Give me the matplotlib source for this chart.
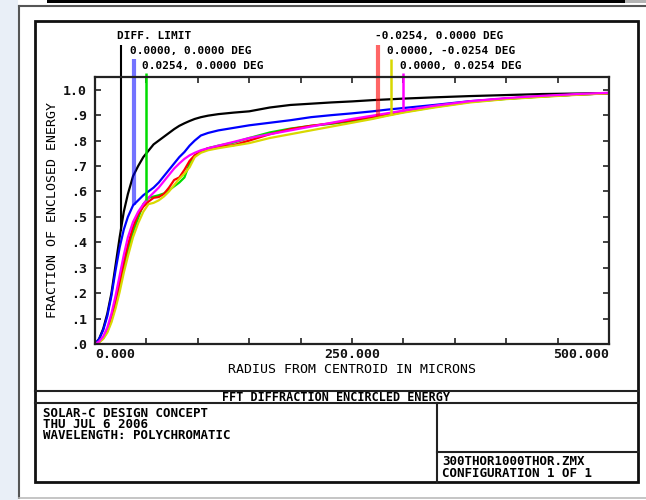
import numpy as np
import matplotlib
matplotlib.use('Agg')
import matplotlib.pyplot as plt
from matplotlib.patches import Rectangle

# radius from centroid (microns) and fraction of enclosed energy
radius = [0, 4, 8, 12, 16, 20, 24, 28, 32, 37, 42, 47, 52, 57, 62, 67, 72, 77, 82, 87,
          92, 97, 103, 110, 120, 135, 150, 170, 190, 210, 230, 250, 270, 285, 300,
          330, 365, 400, 435, 470, 500]

ee_diff = [0, 0.02, 0.06, 0.12, 0.20, 0.31, 0.42, 0.52, 0.59, 0.66, 0.70, 0.735, 0.76,
           0.785, 0.80, 0.815, 0.83, 0.845, 0.858, 0.868, 0.877, 0.885, 0.892, 0.898,
           0.904, 0.91, 0.915, 0.93, 0.94, 0.945, 0.95, 0.954, 0.959, 0.962, 0.965,
           0.97, 0.975, 0.979, 0.983, 0.985, 0.987]
ee_00 = [0, 0.02, 0.055, 0.11, 0.19, 0.29, 0.38, 0.45, 0.50, 0.545, 0.565, 0.585, 0.60,
         0.615, 0.635, 0.66, 0.685, 0.71, 0.735, 0.755, 0.78, 0.80, 0.82, 0.83, 0.84,
         0.85, 0.86, 0.87, 0.88, 0.892, 0.90, 0.907, 0.915, 0.922, 0.928, 0.94, 0.955,
         0.965, 0.974, 0.981, 0.986]
ee_px = [0, 0.008, 0.022, 0.05, 0.095, 0.155, 0.225, 0.30, 0.37, 0.44, 0.495, 0.55,
         0.575, 0.58, 0.585, 0.592, 0.605, 0.62, 0.635, 0.655, 0.71, 0.74, 0.758, 0.77,
         0.78, 0.792, 0.81, 0.832, 0.847, 0.858, 0.866, 0.876, 0.888, 0.90, 0.912,
         0.932, 0.952, 0.964, 0.973, 0.981, 0.986]
ee_mx = [0, 0.008, 0.025, 0.055, 0.10, 0.165, 0.24, 0.32, 0.39, 0.46, 0.51, 0.54, 0.56,
         0.575, 0.578, 0.59, 0.615, 0.645, 0.655, 0.685, 0.72, 0.742, 0.757, 0.77,
         0.775, 0.782, 0.80, 0.825, 0.845, 0.858, 0.868, 0.88, 0.893, 0.905, 0.915,
         0.934, 0.953, 0.965, 0.974, 0.981, 0.986]
ee_my = [0, 0.006, 0.02, 0.045, 0.085, 0.14, 0.205, 0.28, 0.345, 0.42, 0.475, 0.52,
         0.55, 0.555, 0.565, 0.58, 0.60, 0.625, 0.65, 0.67, 0.695, 0.735, 0.752, 0.762,
         0.77, 0.78, 0.79, 0.81, 0.825, 0.84, 0.855, 0.87, 0.885, 0.898, 0.91, 0.93,
         0.95, 0.963, 0.972, 0.98, 0.986]
ee_py = [0, 0.01, 0.03, 0.065, 0.12, 0.19, 0.27, 0.35, 0.42, 0.48, 0.52, 0.55, 0.575,
         0.595, 0.615, 0.64, 0.665, 0.69, 0.71, 0.728, 0.742, 0.752, 0.762, 0.77, 0.78,
         0.795, 0.81, 0.825, 0.84, 0.855, 0.87, 0.885, 0.898, 0.908, 0.918, 0.937,
         0.955, 0.967, 0.976, 0.983, 0.988]

labels = ['DIFF. LIMIT', '0.0000, 0.0000 DEG', '0.0254, 0.0000 DEG',
          '-0.0254, 0.0000 DEG', '0.0000, -0.0254 DEG', '0.0000, 0.0254 DEG']
series = [ee_diff, ee_00, ee_px, ee_mx, ee_my, ee_py]
colors = ['black', '#0000ff', '#00dd00', '#ff0000', '#d8d800', '#ff00ff']
marker_r = [25, 37.5, 50, 275, 287.5, 300]   # where the label leader hits the curve

xticks = np.arange(0, 501, 50)
xticklabels = ['0.000', '', '', '', '', '250.000', '', '', '', '', '500.000']
yticks = np.arange(0, 1.01, 0.1)
yticklabels = ['.0', '.1', '.2', '.3', '.4', '.5', '.6', '.7', '.8', '.9', '1.0']

info_left = 'SOLAR-C DESIGN CONCEPT\nTHU JUL 6 2006\nWAVELENGTH: POLYCHROMATIC'
info_right = '300THOR1000THOR.ZMX\nCONFIGURATION 1 OF 1'

plt.rcParams['font.family'] = ['DejaVu Sans Mono']
plt.rcParams['font.weight'] = 'bold'

W, H = 646, 500
fig = plt.figure(figsize=(W / 100, H / 100), dpi=100)
fig.patch.set_facecolor('white')

# page furniture in pixel coordinates
bg = fig.add_axes([0, 0, 1, 1])
bg.set_xlim(0, W)
bg.set_ylim(H, 0)
bg.axis('off')
bg.add_patch(Rectangle((0, 0), 18, H, color='#e9eff7', lw=0))
bg.add_patch(Rectangle((47, 0), 578, 3, color='black', lw=0))
bg.add_patch(Rectangle((625, 0), 21, 3, color='#b4b4b4', lw=0))
bg.plot([19, W], [5.5, 5.5], color='#555555', lw=1.5)
bg.plot([19, 19], [5.5, 498], color='#555555', lw=1.5)
bg.plot([19, W], [498, 498], color='#bbbbbb', lw=1.2)
bg.add_patch(Rectangle((35, 21), 603, 461, fill=False, ec='#111111', lw=2))
bg.plot([35, 638], [391, 391], color='#222222', lw=1.5)
bg.plot([35, 638], [403, 403], color='#222222', lw=1.5)
bg.plot([437, 437], [403, 482], color='#222222', lw=1.5)
bg.plot([437, 638], [452, 452], color='#222222', lw=1.5)

fs = 9.5
bg.text(336, 397.5, 'FFT DIFFRACTION ENCIRCLED ENERGY', ha='center', va='center', fontsize=8.5)
bg.text(43, 407, info_left, ha='left', va='top', fontsize=9, linespacing=0.8)
bg.text(442, 455, info_right, ha='left', va='top', fontsize=9, linespacing=0.9)

# main plot
ax_l, ax_r, ax_t, ax_b = 95, 609, 77, 344
ax = fig.add_axes([ax_l / W, (H - ax_b) / H, (ax_r - ax_l) / W, (ax_b - ax_t) / H])
ax.set_facecolor('none')
ymax = 1.05
ax.set_xlim(0, 500)
ax.set_ylim(0, ymax)

for vals, c in zip(series, colors):
    ax.plot(radius, vals, color=c, lw=1.6)

# label leaders: vertical lines from the curve up to the label text
text_rows = [36, 51, 66]
line_tops = [45, 59, 73]
text_x = [117, 130, 142, 375, 387, 400]
lead_lw = [1.5, 3, 1.8, 3, 1.8, 1.8]
lead_alpha = [1, 0.55, 1, 0.6, 1, 1]
for i, (vals, c, r0) in enumerate(zip(series, colors, marker_r)):
    v0 = np.interp(r0, radius, vals)
    top = (ax_b - line_tops[i % 3]) / (ax_b - ax_t) * ymax
    ax.plot([r0, r0], [v0, top], color=c, lw=lead_lw[i], alpha=lead_alpha[i],
            clip_on=False, solid_capstyle='butt')
    bg.text(text_x[i], text_rows[i % 3], labels[i], ha='left', va='center', fontsize=8)

ax.set_xticks(xticks)
ax.set_xticklabels(xticklabels, fontsize=fs)
ax.set_yticks(yticks)
ax.set_yticklabels(yticklabels, fontsize=fs)
ax.tick_params(direction='in', length=4, width=1.2, top=True, right=True,
               colors='#222222', labelcolor='#111111')
ax.tick_params(axis='x', pad=3)
ax.tick_params(axis='y', pad=6)
xl = ax.get_xticklabels()
xl[0].set_ha('left')
xl[-1].set_ha('right')
for s in ax.spines.values():
    s.set_linewidth(1.6)
    s.set_color('#222222')

ax.set_xlabel('RADIUS FROM CENTROID IN MICRONS', fontsize=fs, labelpad=1)
ax.set_ylabel('FRACTION OF ENCLOSED ENERGY', fontsize=fs, labelpad=3)

fig.savefig('out.png', dpi=100)
